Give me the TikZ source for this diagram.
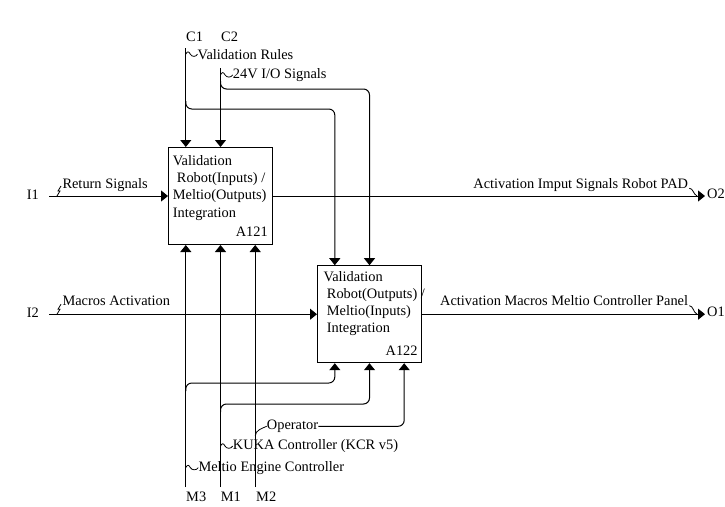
\documentclass[tikz,border=0pt]{standalone}
\usepackage{fontspec}
\setmainfont{Liberation Serif}
\usetikzlibrary{arrows.meta}

\begin{document}
\begin{tikzpicture}[x=1pt,y=-1pt,
  flow/.style={line width=1pt,-{Triangle[width=11pt,length=7pt]}},
  tick/.style={line width=0.8pt},
  box/.style={draw,line width=1pt,minimum width=104pt,minimum height=97pt,inner sep=0pt},
  lbl/.style={inner sep=0pt,font=\fontsize{14.4}{17.3}\selectfont}]
\useasboundingbox (0,0) rectangle (725,506);
\node[box] (a121) at (220.5,196) {};
\node[box] (a122) at (369.5,314.2) {};
\node[lbl,anchor=north west,align=left] (t121) at (172.7,155.2) {Validation\\\hspace*{4pt}Robot(Inputs) /\\Meltio(Outputs)\\Integration};
\node[lbl,anchor=north west,align=left] (t122) at (323.3,270.9) {Validation\\\hspace*{3.4pt}Robot(Outputs) /\\\hspace*{3.4pt}Meltio(Inputs)\\\hspace*{3.4pt}Integration};
\node[lbl,anchor=base east] (id121) at ([shift={(-5,-8.5)}]a121.south east) {A121};
\node[lbl,anchor=base east] (id122) at ([shift={(-4.2,-7.7)}]a122.south east) {A122};
\coordinate (a121t1) at ([xshift=-34.7pt]a121.north);
\coordinate (a121t2) at (a121.north);
\coordinate (a121b1) at ([xshift=-34.7pt]a121.south);
\coordinate (a121b2) at (a121.south);
\coordinate (a121b3) at ([xshift=34.7pt]a121.south);
\coordinate (a122t1) at ([xshift=-34.7pt]a122.north);
\coordinate (a122t2) at (a122.north);
\coordinate (a122b1) at ([xshift=-34.7pt]a122.south);
\coordinate (a122b2) at (a122.south);
\coordinate (a122b3) at ([xshift=34.7pt]a122.south);
% ends of the boundary arrows
\coordinate (c1) at (a121t1 |- 0,48);
\coordinate (c2) at (a121t2 |- 0,68);
\coordinate (m3) at (a121b1 |- 0,487);
\coordinate (m1) at (a121b2 |- 0,487);
\coordinate (m2) at (a121b3 |- 0,487);
\coordinate (i1) at (a121.west -| 49,0);
\coordinate (i2) at (a122.west -| 49,0);
\coordinate (o2) at (a121.east -| 705,0);
\coordinate (o1) at (a122.east -| 705,0);
\node[lbl,anchor=base west] (lc1) at (186,41) {C1};
\node[lbl,anchor=base west] (lc2) at (221,41) {C2};
\node[lbl,anchor=base west] (lm3) at (186,501) {M3};
\node[lbl,anchor=base west] (lm1) at (220.7,501) {M1};
\node[lbl,anchor=base west] (lm2) at (256,501) {M2};
\node[lbl,anchor=base west] (li1) at (26.7,199) {I1};
\node[lbl,anchor=base west] (li2) at (26.7,317.7) {I2};
\node[lbl,anchor=base west] (lo2) at (707,198.7) {O2};
\node[lbl,anchor=base west] (lo1) at (707,316.7) {O1};
\node[lbl,anchor=base west] (lrules) at (197.5,59) {Validation Rules};
\node[lbl,anchor=base west] (lio) at (232.7,78.3) {24V I/O Signals};
\node[lbl,anchor=base west] (lret) at (62.3,188.3) {Return Signals};
\node[lbl,anchor=base west] (lmac) at (62.3,305.7) {Macros Activation};
\node[lbl,anchor=base east] (lpad) at (688.3,188.3) {Activation Imput Signals Robot PAD};
\node[lbl,anchor=base east] (lpanel) at (688.3,305.7) {Activation Macros Meltio Controller Panel};
\node[lbl,anchor=base west] (lop) at (266.7,429.5) {Operator};
\node[lbl,anchor=base west] (lkuka) at (232.7,449.5) {KUKA Controller (KCR v5)};
\node[lbl,anchor=base west] (lmec) at (198.3,471) {Meltio Engine Controller};
\draw[flow] (c1) -- (a121t1);
\draw[flow] (c2) -- (a121t2);
\draw[flow,rounded corners=6pt] (c1 |- 0,101) |- (a122t1 |- 0,109) -- (a122t1);
\draw[flow,rounded corners=6pt] (c2 |- 0,81) |- (a122t2 |- 0,89) -- (a122t2);
\draw[flow] (m3) -- (a121b1);
\draw[flow] (m1) -- (a121b2);
\draw[flow] (m2) -- (a121b3);
\draw[flow,rounded corners=6pt] (m3 |- 0,391) |- (a122b1 |- 0,383) -- (a122b1);
\draw[flow,rounded corners=6pt] (m1 |- 0,412) |- (a122b2 |- 0,404) -- (a122b2);
\draw[flow,rounded corners=6pt] (lop.east) -| (a122b3);
\draw[flow] (i1) -- (a121.west);
\draw[flow] (i2) -- (a122.west);
\draw[flow] (a121.east) -- (o2);
\draw[flow] (a122.east) -- (o1);
\draw[tick] (c1 |- lrules.west) .. controls +(1.5,-3) and +(-1.5,-3) .. ++(4.5,0) .. controls +(1.5,3) and +(-1.5,3) .. (lrules.west);
\draw[tick] (c2 |- lio.west) .. controls +(1.5,-3) and +(-1.5,-3) .. ++(4.5,0) .. controls +(1.5,3) and +(-1.5,3) .. (lio.west);
\draw[tick] (m1 |- lkuka.west) .. controls +(1.5,-3) and +(-1.5,-3) .. ++(4.5,0) .. controls +(1.5,3) and +(-1.5,3) .. (lkuka.west);
\draw[tick] (m3 |- lmec.west) .. controls +(1.5,-3) and +(-1.5,-3) .. ++(4.5,0) .. controls +(1.5,3) and +(-1.5,3) .. (lmec.west);
\draw[tick] (m2 |- 0,436) .. controls +(0,-6) and +(-4,2) .. (lop.west);
\draw[tick] ([xshift=8pt]i1) -- ++(3,-5) -- ++(-2,0) -- ++(3,-5);
\draw[tick] ([xshift=8pt]i2) -- ++(3,-5) -- ++(-2,0) -- ++(3,-5);
\draw[tick] ([xshift=1pt]lpad.base east) .. controls +(4,0) and +(-4,-2) .. ([xshift=-8pt]o2);
\draw[tick] ([xshift=1pt]lpanel.base east) .. controls +(4,0) and +(-4,-2) .. ([xshift=-8pt]o1);
\end{tikzpicture}
\end{document}
